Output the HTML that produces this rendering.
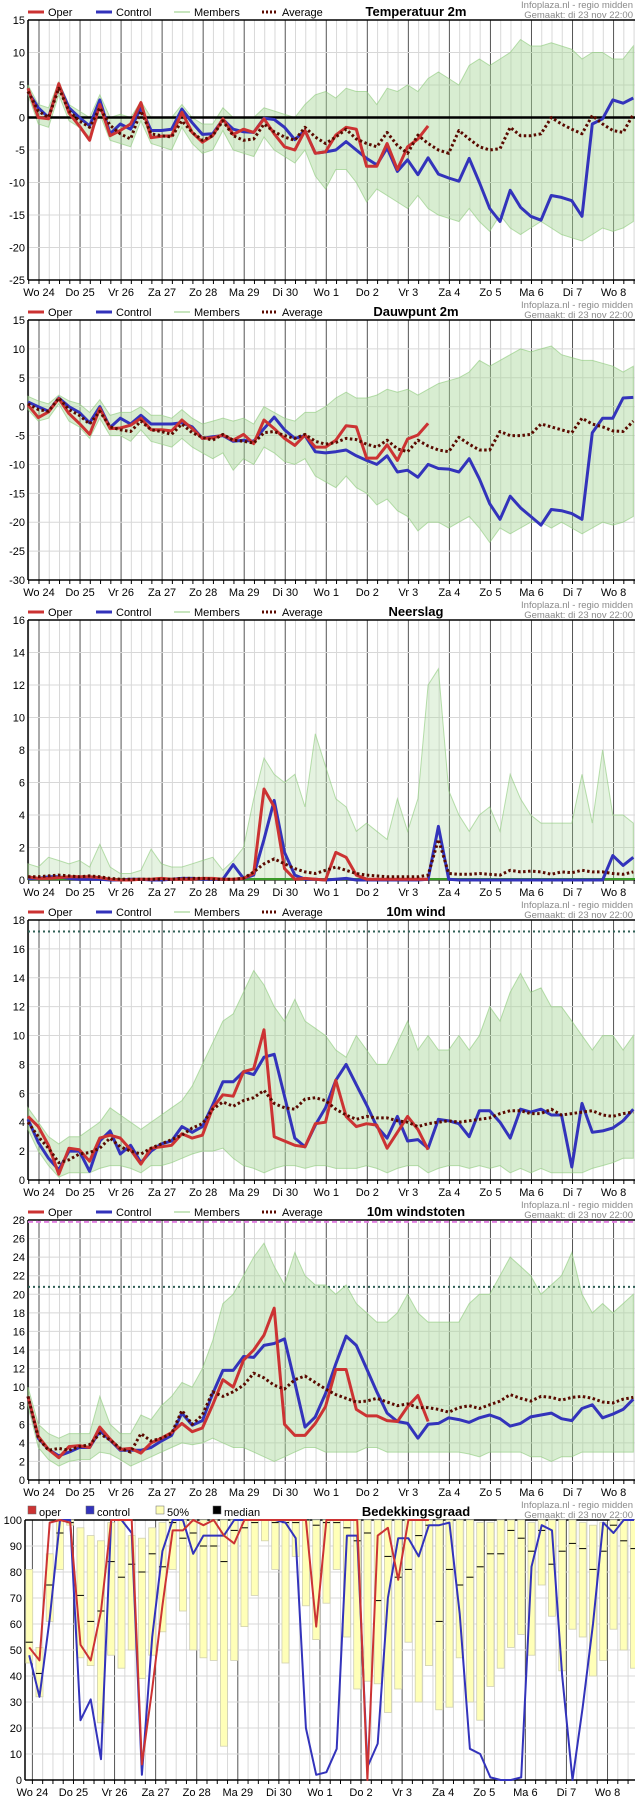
<!DOCTYPE html>
<html><head><meta charset="utf-8">
<style>
html,body{margin:0;padding:0;background:#fff;}
svg{display:block;font-family:"Liberation Sans",Arial,sans-serif;}
</style></head>
<body>
<svg id="chart" width="635" height="1800" viewBox="0 0 635 1800" xmlns="http://www.w3.org/2000/svg"></svg>
<script>
// ---------- DATA ----------
const dayLabels = ["Wo 24","Do 25","Vr 26","Za 27","Zo 28","Ma 29","Di 30","Wo 1","Do 2","Vr 3","Za 4","Zo 5","Ma 6","Di 7","Wo 8"];

const tempOper = [4.5,0,-0.2,5.2,0.7,-1.3,-3.5,2,-2.8,-2,-1,2.3,-3.1,-2.9,-2.8,0.8,-2.3,-3.8,-2.8,-0.2,-2.6,-1.8,-2.3,-0.2,-2.5,-4.5,-5,-2,-5.5,-5.3,-2.7,-1.5,-1.8,-7.5,-7.5,-4,-8,-4.5,-3.3,-1.3];
const tempControl = [4,1.5,0,5,1.5,0,-1.3,2.7,-2.5,-1,-1.8,1.5,-2,-2,-1.8,1.3,-0.8,-2.6,-2.5,-0.3,-1.8,-2.2,-2.3,-0.1,-0.3,-1.5,-3.4,-2,-5.5,-5.3,-5,-3.7,-5,-6.3,-7.3,-4.7,-8.3,-6.5,-8.8,-6.2,-8.7,-9.3,-9.8,-6.3,-10,-14,-16,-11.2,-13.8,-15.2,-15.8,-12,-12.3,-12.8,-15.2,-1,-0.2,2.7,2.2,3];
const tempAverage = [4,1,0,4.5,1,-0.5,-1.5,1.5,-1.2,-2.5,-3.3,1,-2.5,-2.8,-3,-0.5,-2.3,-3.5,-2.8,-0.5,-2.8,-3.5,-3.3,-1,-2.2,-3,-3.5,-1.5,-3,-4,-3,-1.8,-3.3,-4,-4.5,-2.3,-4.3,-5.5,-2.7,-4,-5,-5.5,-2,-3.3,-4.5,-5,-4.8,-1.5,-2.8,-2.8,-2.5,0,-1,-1.8,-2.5,0.3,-1,-2,-2.3,0.5];
const tempMembersMax = [5,2,1.5,5.5,2,1,0,3.5,0,0.5,0,2.5,0,0,0,2,0,-1,-1,1.5,0,0,0,1.5,1,0.5,0,2,3.5,4,3,4.5,4,4,2,4.5,4,5,4,6,7,6,5,8,9,8,9,10,12,11,11,11.5,11,10.5,9,10,10,9,9,11];
const tempMembersMin = [3.5,-1,-1.5,3.5,-0.5,-1.5,-3,0.5,-3.5,-4,-4.5,-0.5,-4,-4.5,-5,-1.5,-4,-5.5,-5,-2,-5,-5.5,-6,-3,-5,-6,-7,-5,-9,-11,-8,-8,-10,-13,-11,-12,-13,-14,-12,-14,-15,-15.5,-16,-14,-16,-17.5,-15,-17,-18,-17,-16,-17,-18,-18.5,-19,-18,-17,-17.5,-17,-16];

const dewOper = [0.3,-1.9,-0.9,1.4,-1.2,-2.9,-4.8,-0.3,-3.8,-3.7,-3.2,-2,-4,-4,-4.2,-2.3,-3.8,-5.5,-5.4,-4.9,-5.8,-4.8,-6.4,-2.3,-3.8,-5.5,-6.7,-4.9,-7,-7,-5.8,-3.3,-3.5,-8.9,-8.9,-6.6,-9.3,-5.6,-4.9,-2.9];
const dewControl = [0.8,0,-0.8,1.5,0,-1,-2.8,0,-3.6,-2,-3,-1.5,-3,-3,-3,-2.8,-3.5,-5.5,-5.2,-5,-6,-5.8,-6,-3.8,-1.8,-4,-5.5,-5,-7.8,-8,-7.8,-7.5,-8.5,-9.3,-10,-8.5,-11.3,-11,-12.2,-10,-10.7,-10.8,-11.3,-9,-12.5,-16.8,-19.5,-15.5,-17.5,-19,-20.5,-17.8,-18,-18.5,-19.5,-4.5,-2,-2,1.5,1.6];
const dewAverage = [0.5,-0.5,-0.8,1.5,-0.5,-1.5,-3,-0.8,-3.5,-4,-4.3,-2.5,-4,-4.3,-4.8,-3,-4.5,-5.3,-5.8,-4.8,-5.8,-6,-6.3,-4.5,-4.3,-5,-5.5,-4.8,-6,-6.5,-6.2,-5.5,-5.7,-6.5,-7,-5.8,-7.3,-7.8,-5.8,-6.8,-7.5,-7.8,-5.3,-6.5,-7.5,-7.5,-4.3,-5,-5,-4.8,-3,-3.5,-4,-4.5,-2,-3,-3.5,-4.2,-4.3,-2.5];
const dewMembersMax = [1.8,1,0.5,2,1,0.5,-1,1.2,-1.5,-1,-1,0,-1.5,-1.5,-2,-0.5,-2,-3,-2.5,-2,-2.5,-2,-3,0,-1,-2,-2.5,-1,-1,0,1.5,2.5,1.5,1.5,2,3,2.5,3,2,3,4,4.5,5,6,8,7,8,9,10,9.5,10,10.5,9,8.5,8,8,7.5,7,6,7];
const dewMembersMin = [-0.5,-2.5,-2,0.5,-2.5,-3.5,-5.5,-2,-5,-5,-6,-4,-6,-6.5,-7,-5.5,-7,-8,-9,-8,-11,-9,-10,-7,-8,-9.5,-10,-9,-12,-13,-14,-12,-14,-15,-17,-16,-18,-19,-21.5,-20,-20,-21,-20,-19,-21,-23.5,-21,-22,-21,-20,-20,-21,-20,-21,-22,-21,-20,-20.5,-20,-19];

const rainOper = [0.2,0.1,0.1,0.15,0.2,0.2,0.2,0.15,0.05,0,0,0.05,0.05,0.1,0.05,0.05,0.05,0.1,0.1,0.05,0.05,0.1,0.4,5.6,4.5,0.7,0.05,0.1,0.05,0,1.7,1.4,0.3,0.05,0.05,0.05,0.05,0.05,0.05,0.05];
const rainControl = [0.1,0.1,0.2,0.2,0.1,0.05,0.05,0.05,0,0,0.05,0.05,0,0,0.05,0.1,0.1,0.05,0.05,0.05,0.95,0.1,0.3,2.5,4.9,1.7,0.3,0.05,0.05,0,0.05,0.1,0,0,0,0,0,0,0,0.05,3.3,0.05,0,0,0,0,0,0,0,0,0,0,0,0,0,0,0,1.5,0.9,1.4];
const rainAverage = [0.2,0.2,0.25,0.3,0.25,0.2,0.25,0.2,0.1,0.05,0.05,0.05,0.05,0.05,0.05,0.1,0.1,0.1,0.05,0.05,0.05,0.1,0.5,1.0,1.3,1.0,0.7,0.5,0.4,0.6,0.8,0.6,0.4,0.3,0.25,0.2,0.2,0.2,0.2,0.3,2.5,0.4,0.35,0.35,0.4,0.35,0.3,0.6,0.5,0.55,0.5,0.35,0.5,0.45,0.6,0.5,0.5,0.4,0.35,0.5];
const rainMembersMax = [1,0.8,1.4,1.2,1,1.2,0.8,2.2,0.8,0.4,0.4,0.6,1.9,1,0.8,0.8,1,1.2,1.4,0.6,1.2,2,5,7.5,6.5,6,6.5,4.5,9,7,5,4.5,3,3.5,3,2.5,5,3,5,12,13,5.5,4,3,4,4.5,3,6.5,5,4,3.5,3.5,3.5,3.5,6.5,3.5,8,4,4,3.5];
const rainMembersMin = [0,0,0,0,0,0,0,0,0,0,0,0,0,0,0,0,0,0,0,0,0,0,0,0,0,0,0,0,0,0,0,0,0,0,0,0,0,0,0,0,0,0,0,0,0,0,0,0,0,0,0,0,0,0,0,0,0,0,0,0];

const windOper = [4.4,3.7,2.4,0.4,2.2,2.1,1.3,2.9,3.1,2.9,2.1,1.1,2.2,2.3,2.4,3.2,2.9,3.1,5,5.9,5.8,7.5,7.7,10.4,3,2.7,2.4,2.3,3.9,4,6.9,4.4,3.7,3.9,3.8,2.2,3.3,4.4,3.5,2.1];
const windControl = [4.2,2.6,1.5,0.7,2,2,0.6,2.7,3.4,1.8,2.4,1.2,2,2.5,2.7,3.7,3.3,3.7,5.2,6.8,6.8,7.5,7.3,8.5,8.7,5.8,2.9,2.3,3.8,5,6.9,8,6.6,5.2,3.7,2.9,4.4,2.7,2.8,2.2,4.2,4.1,3.9,3,4.8,4.8,4,2.9,4.9,4.7,4.9,4.5,4.5,0.9,5.3,3.3,3.4,3.6,4.1,4.9];
const windAverage = [4,3,2.2,1.2,1.4,1.8,1.9,2.2,2.9,2.3,2,1.8,2.2,2.5,2.8,3.1,3.6,3.9,4.9,5.4,5.1,5.5,5.7,6.2,5.3,5,4.9,5.6,5.7,5.5,4.9,4.5,4.2,4.4,4.3,4.3,4.1,4,3.7,3.9,4,4.1,4,4.1,4.2,4.3,4.6,4.8,4.8,4.6,4.6,4.9,4.5,4.6,4.7,4.8,4.5,4.4,4.6,4.7];
const windMembersMax = [5,4,3,2.5,3,3,3.5,4,5,4.5,4,3.5,4,4.5,5,5.5,6.5,8,9.5,11,11.5,13,14.5,13.5,12,11,12.5,11,10.5,10,9,8.5,10,9,8,8,9.5,11,9,10,9,9,10,9,10,12,11,13,14.3,13,13.3,12,12,11,10,9,10,10,9,10];
const windMembersMin = [3.5,2,1,0.2,0.5,0.5,0.5,0.8,1,1,0.8,0.5,1,1,1.2,1.5,1.8,2,2,2.2,1.5,1,0.8,0.5,0.8,1,1,0.8,1,1,0.8,0.8,0.8,1,0.8,0.5,0.8,1,1,0.5,0.8,1,1,0.8,1,0.8,1,0.5,0.8,0.5,0.8,0.5,0.5,0.5,0.5,0.8,1,1.2,1.5,1.5];

const gustOper = [9,4.7,3.3,2.4,3.6,3.7,3.5,5.7,4.4,3.3,3.4,2.9,4,4.5,5.1,6.1,5.2,5.6,8.1,10.8,10,12.9,14,15.6,18.5,6,4.8,4.8,6.1,7.9,11.9,11.9,7.6,6.9,6.9,6.4,6.3,7.9,9.1,6.3];
const gustControl = [9,4.5,3.3,2.6,3,3.5,3.5,5.3,4.3,3.2,3.2,3.2,3.5,4.2,4.8,7.2,5.9,6.4,9.3,11.8,11.8,13.3,13.2,14.5,14.7,15.2,10.5,5.7,6.8,9.3,12.5,15.5,14.5,12,9.5,7.2,6.3,6.1,4.5,6,6.1,6.7,6.5,6.2,6.7,7,6.6,5.8,6.1,6.8,7,7.2,6.6,6.4,7.7,8.1,6.7,7.1,7.6,8.7];
const gustAverage = [9,4.5,3.2,3.4,3.2,3.6,3.8,5,4.3,3.4,3,5,4.2,4.5,5,7.5,6,7,9.5,9,9.5,10.2,11.5,11,10.2,9.8,10.8,11.2,10.5,9.8,9.2,8.8,8.4,8.5,8.8,8.4,8,8.2,7.8,7.8,7.6,7.3,7.8,8,7.7,8.1,8.5,9.2,8.8,8.5,9,8.9,8.6,8.9,9,8.8,8.4,8.3,8.7,8.9];
const gustMembersMax = [10,6,5,4.5,5,5,5,9,6,5,5,7,6.5,8,9,10.5,10,12,15,19,20,22,24,25.5,23,21,24.5,22,21,21,20,21,19,18,17,17,18,20,18,17,17,17,17,19,20,20,22,24,23,22,20,21,22,24.5,20,18,19,18,19,20];
const gustMembersMin = [8,3.5,2.2,1.5,2,2.2,2.2,3,2.8,2.2,1.5,2,2.5,3,3.5,4,3.8,4,4.5,4,3.5,3.5,3,2.5,2,2.5,3,3.5,3.5,3,3,3,3,3.5,3.5,3,3,3,3,3,3,3,3,2.8,2.5,3,3,3,3,2.5,2.5,2,2.5,2.5,3,3,3,3,3,3];

const cloudOper = [51,46,99,100,99,52,46,65,100,100,100,6,35,67,96,96,100,98,100,94,91,100,100,100,100,100,100,100,59,100,100,100,100,0,94,97,77,100,100,100];
const cloudControl = [48,32,62,100,100,23,31,8,100,100,95,2,55,88,100,100,87,94,94,94,100,100,100,100,100,99,93,20,2,3,12,94,94,5,14,70,93,93,86,98,98,99,64,12,10,1,0,0,1,82,98,96,40,0,28,60,99,95,100,100];
const cloudP25 = [45,32,61,81,98,47,44,22,48,43,50,39,48,57,81,65,50,47,46,13,46,59,71,92,81,45,86,67,54,68,81,55,35,38,37,26,35,53,30,44,27,28,47,30,23,36,43,51,56,48,75,63,42,58,55,40,46,58,50,43];
const cloudP75 = [81,51,87,100,100,97,94,92,99,100,94,93,97,99,100,100,100,100,100,100,100,100,100,100,100,100,100,100,100,100,100,100,100,100,100,100,100,100,100,100,100,100,100,100,99,99,100,100,100,99,100,100,100,100,99,98,99,100,100,100];
const cloudMedian = [53,41,75,95,99,71,61,65,84,78,83,80,87,82,99,93,95,90,90,84,96,97,99,100,99,99,99,100,98,99,99,97,92,95,69,86,78,81,94,98,61,81,75,78,82,87,87,96,93,88,96,83,88,91,89,81,88,98,92,89];

const tempTicks = [-25,-20,-15,-10,-5,0,5,10,15];
const dewTicks = [-30,-25,-20,-15,-10,-5,0,5,10,15];
const rainTicks = [0,2,4,6,8,10,12,14,16];
const windTicks = [0,2,4,6,8,10,12,14,16,18];
const gustTicks = [0,2,4,6,8,10,12,14,16,18,20,22,24,26,28];
const cloudTicks = [0,10,20,30,40,50,60,70,80,90,100];

// ---------- DRAWING ----------
const NS = "http://www.w3.org/2000/svg";
const svg = document.getElementById("chart");
function el(tag, attrs, parent){
  const e = document.createElementNS(NS, tag);
  for (const k in attrs) e.setAttribute(k, attrs[k]);
  (parent||svg).appendChild(e);
  return e;
}
function txt(str, attrs, parent){ const t = el("text", attrs, parent); t.textContent = str; return t; }

function frame(g, P){
  for (let k = -1; ; k++){
    const x = P.day0 + k*P.step;
    if (x > 635) break;
    if (x < P.left) continue;
    const isDay = ((k % 4) + 4) % 4 === 0;
    const ln = el("line",{x1:x,y1:P.top,x2:x,y2:P.bottom,stroke:isDay?"#555":"#d8d8d8","stroke-width":1},g);
    
    
    const tk = el("line",{x1:x,y1:P.bottom,x2:x,y2:P.bottom+4,stroke:"#000","stroke-width":1},g);
    
    
  }
  P.ticks.forEach(v => {
    const y = P.y(v);
    const ln = el("line",{x1:P.left,y1:y,x2:635,y2:y,stroke:"#d8d8d8","stroke-width":1},g);
    
    
    const t = txt(String(v),{x:P.left-3,y:y+4,"text-anchor":"end","font-size":"11",fill:"#000"},g);
    
    
  });
  const top = el("line",{x1:P.left,y1:P.top,x2:635,y2:P.top,stroke:"#000","stroke-width":1.5},g);
  
  
  const ax = el("line",{x1:P.left,y1:P.top,x2:P.left,y2:P.bottom,stroke:"#000","stroke-width":1.5},g);
  
  
  const bx = el("line",{x1:P.left,y1:P.bottom,x2:635,y2:P.bottom,stroke:"#000","stroke-width":1.5},g);
  
  
  dayLabels.forEach((d,i) => {
    const t = txt(d,{x:P.day0 + i*4*P.step,y:P.bottom+16,"text-anchor":"middle","font-size":"11",fill:"#000"},g);
    
    
  });
}

function header(g, P, title, legend){
  const hy = P.top - 4;
  legend.forEach(L => {
    if (L.kind === "line"){
      const s = el("line",{x1:L.x,y1:hy-4,x2:L.x+16,y2:hy-4,stroke:L.color,"stroke-width":L.w,"stroke-dasharray":L.dash||"none"},g);
      
      
    } else {
      const s = el("rect",{x:L.x,y:hy-10,width:8,height:8,fill:L.color,stroke:"#666","stroke-width":0.5},g);
      
      
    }
    const t = txt(L.label,{x:L.x+(L.kind==="line"?20:11),y:hy,"font-size":"11",fill:"#000"},g);
    
    
  });
  const tt = txt(title,{x:416,y:hy,"text-anchor":"middle","font-size":"13","font-weight":"bold",fill:"#000"},g);
  
  
  const s1 = txt("Infoplaza.nl - regio midden",{x:633,y:P.top-12,"text-anchor":"end","font-size":"9.5",fill:"#8a8a8a"},g);
  
  
  const s2 = txt("Gemaakt: di 23 nov 22:00",{x:633,y:P.top-2,"text-anchor":"end","font-size":"9.5",fill:"#8a8a8a"},g);
  
  
}

function pts(arr, P){ return arr.map((v,i)=> (P.x(i)).toFixed(1)+","+P.y(v).toFixed(1)).join(" "); }

function band(g, P, hi, lo, op){
  const up = hi.map((v,i)=>P.x(i).toFixed(1)+","+P.y(v).toFixed(1));
  const dn = lo.map((v,i)=>P.x(i).toFixed(1)+","+P.y(v).toFixed(1)).reverse();
  const b = el("polygon",{points:up.concat(dn).join(" "),fill:"#a9d89a","fill-opacity":String(op),stroke:"#8cc97a","stroke-width":1,"stroke-opacity":0.6},g);
  
  
}
function series(g, P, arr, color, w, dash, name){
  const l = el("polyline",{points:pts(arr,P),fill:"none",stroke:color,"stroke-width":w,"stroke-linejoin":"round","stroke-dasharray":dash||"none"},g);
  
  
}

const stdLegend = [
  {kind:"line",x:28,label:"Oper",color:"#cc3333",w:3},
  {kind:"line",x:96,label:"Control",color:"#3333bb",w:3},
  {kind:"line",x:174,label:"Members",color:"#8fcb7c",w:1},
  {kind:"line",x:262,label:"Average",color:"#5a0a00",w:3,dash:"2,2"}
];

function makePanel(top, min, max, ticks){
  const bottom = top + 260;
  return {top, bottom, left:28, day0:39, step:10.26, ticks,
    x: i => 28 + i*10.26,
    y: v => bottom - (v-min)/(max-min)*260};
}

function linePanel(name, title, P, mx, mn, avg, ctrl, oper, extra, op){
  const g = el("g",{});
  
  
  frame(g, P);
  if (extra) extra(g, P, "pre");
  band(g, P, mx, mn, op || 0.45);
  if (extra) extra(g, P, "mid");
  series(g, P, ctrl, "#3333bb", 3, null, "control-line");
  series(g, P, oper, "#cc3333", 3, null, "oper-line");
  series(g, P, avg, "#5a0a00", 3, "2.5,2.5", "average-line");
  header(g, P, title, stdLegend);
}

linePanel("temperature-panel","Temperatuur 2m", makePanel(20,-25,15,tempTicks), tempMembersMax, tempMembersMin, tempAverage, tempControl, tempOper,
  (g,P,stage)=>{ if(stage==="mid"){ const z=el("line",{x1:P.left,y1:P.y(0),x2:635,y2:P.y(0),stroke:"#000","stroke-width":2.5},g);
    
     }});
linePanel("dewpoint-panel","Dauwpunt 2m", makePanel(320,-30,15,dewTicks), dewMembersMax, dewMembersMin, dewAverage, dewControl, dewOper);
linePanel("precipitation-panel","Neerslag", makePanel(620,0,16,rainTicks), rainMembersMax, rainMembersMin, rainAverage, rainControl, rainOper,
  (g,P,stage)=>{ if(stage==="mid"){ const z=el("line",{x1:P.left,y1:P.y(0)-1,x2:635,y2:P.y(0)-1,stroke:"#3a9a2a","stroke-width":2},g);
    
     }}, 0.3);
linePanel("wind-panel","10m wind", makePanel(920,0,18,windTicks), windMembersMax, windMembersMin, windAverage, windControl, windOper,
  (g,P,stage)=>{ if(stage==="pre"){ const z=el("line",{x1:P.left,y1:P.y(17.2),x2:635,y2:P.y(17.2),stroke:"#2f5f55","stroke-width":2,"stroke-dasharray":"2,3"},g);
    
     }});
linePanel("gust-panel","10m windstoten", makePanel(1220,0,28,gustTicks), gustMembersMax, gustMembersMin, gustAverage, gustControl, gustOper,
  (g,P,stage)=>{ if(stage==="pre"){
    const z=el("line",{x1:P.left,y1:P.y(20.8),x2:635,y2:P.y(20.8),stroke:"#2f5f55","stroke-width":2,"stroke-dasharray":"2,3"},g);
    
    
    const m=el("line",{x1:P.left,y1:P.y(27.8),x2:635,y2:P.y(27.8),stroke:"#e080e0","stroke-width":2,"stroke-dasharray":"5,3"},g);
    
     }});

(function(){
  const top = 1520, bottom = 1780;
  const P = {top, bottom, left:25, day0:32.4, step:10.27, ticks:cloudTicks,
    x: i => 29.2 + i*10.25,
    y: v => bottom - v/100*260};
  const g = el("g",{});
  
  
  frame(g, P);
  cloudP25.forEach((lo,i)=>{
    const hi = cloudP75[i];
    const r = el("rect",{x:P.x(i)-3.5,y:P.y(hi),width:7,height:P.y(lo)-P.y(hi),fill:"#ffffb8",stroke:"#d0d0b0","stroke-width":0.8},g);
    
    
    const m = el("line",{x1:P.x(i)-3.5,y1:P.y(cloudMedian[i]),x2:P.x(i)+3.5,y2:P.y(cloudMedian[i]),stroke:"#000","stroke-width":1},g);
    
    
  });
  series(g, P, cloudControl, "#3333bb", 2, null, "cloud-control-line");
  series(g, P, cloudOper, "#cc3333", 2, null, "cloud-oper-line");
  header(g, P, "Bedekkingsgraad", [
    {kind:"box",x:28,label:"oper",color:"#cc3333"},
    {kind:"box",x:86,label:"control",color:"#3333bb"},
    {kind:"box",x:156,label:"50%",color:"#ffffb8"},
    {kind:"box",x:213,label:"median",color:"#000"}
  ]);
})();
</script>
</body></html>
